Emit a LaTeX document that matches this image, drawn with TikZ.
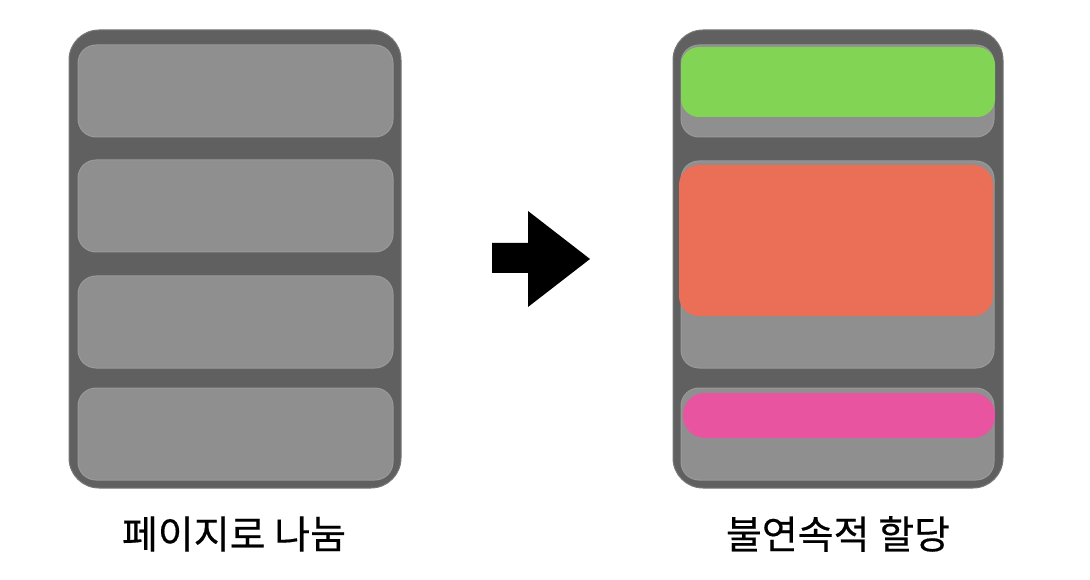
\documentclass[tikz,border=0pt]{standalone}
\usepackage{fontspec}
\newfontfamily\kr[FakeBold=0.4]{Noto Sans CJK KR}
\definecolor{dark}{HTML}{606060}
\definecolor{slot}{HTML}{8F8F8F}
\definecolor{slotedge}{HTML}{9A9A9A}
\definecolor{grn}{HTML}{82D454}
\definecolor{red}{HTML}{EB6E57}
\definecolor{pnk}{HTML}{E8549F}
\tikzset{
  frame/.style={fill=dark, draw=dark!85!white, line width=1pt, rounded corners=30pt},
  slotbox/.style={fill=slot, draw=slotedge, line width=1pt, rounded corners=18pt},
  alloc/.style={rounded corners=#1},
  label/.style={font=\kr\fontsize{39}{44}\selectfont, text=black, inner sep=0pt},
}
\begin{document}
\begin{tikzpicture}[x=1pt,y=-1pt]
\useasboundingbox[fill=white] (0,0) rectangle (1090,580);
% left container
\draw[frame] (69,30) rectangle (401,488);
\draw[slotbox] (78,45) rectangle (393,137);
\draw[slotbox] (78,160) rectangle (393,252);
\draw[slotbox] (78,276) rectangle (393,368);
\draw[slotbox] (78,388) rectangle (393,480);
% arrow
\fill[black] (492,243) -- (528,243) -- (528,211) -- (590,259) -- (528,307) -- (528,273) -- (492,273) -- cycle;
% right container
\draw[frame] (673,30) rectangle (1003,488);
\draw[slotbox] (681,45) rectangle (994,137);
\draw[slotbox] (681,161) rectangle (994,368);
\draw[slotbox] (681,388) rectangle (994,480);
\fill[grn, alloc=18pt] (681,47) rectangle (995,117);
\fill[red, alloc=20pt] (679,165) rectangle (993,316);
\fill[pnk, alloc=22pt] (683,393) rectangle (995,438);
% labels
\node[label] (lt) at (234,534) {페이지로 나눔};
\node[label] (rt) at (838,534) {불연속적 할당};
\end{tikzpicture}
\end{document}
